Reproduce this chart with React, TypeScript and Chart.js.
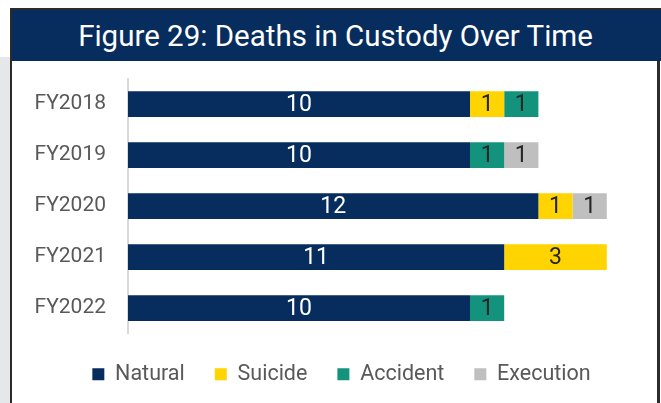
import React, { useEffect, useRef } from "react";
import { Chart, registerables } from "chart.js";

Chart.register(...registerables);

const categories = ["FY2018", "FY2019", "FY2020", "FY2021", "FY2022"];
const natural = [10, 10, 12, 11, 10];
const suicide = [1, 0, 1, 3, 0];
const accident = [1, 1, 0, 0, 1];
const execution = [0, 1, 1, 0, 0];
const seriesNames = ["Natural", "Suicide", "Accident", "Execution"];
const seriesColors = ["#062d5d", "#ffd400", "#14937c", "#bfbfbf"];
const labelColors = ["#ffffff", "#262626", "#262626", "#262626"];
const title = "Figure 29: Deaths in Custody Over Time";

const FONT = "Roboto, 'Liberation Sans', sans-serif";

const segmentLabels = {
  id: "segmentLabels",
  afterDatasetsDraw(chart: any) {
    const ctx = chart.ctx;
    ctx.save();
    ctx.font = `23px ${FONT}`;
    ctx.textAlign = "center";
    ctx.textBaseline = "middle";
    chart.data.datasets.forEach((ds: any, di: number) => {
      const meta = chart.getDatasetMeta(di);
      if (meta.hidden) return;
      meta.data.forEach((bar: any, i: number) => {
        const v = ds.data[i];
        if (!v) return;
        const p = bar.getProps(["x", "y", "base"], true);
        ctx.fillStyle = labelColors[di];
        ctx.fillText(String(v), (p.x + p.base) / 2, p.y + 1);
      });
    });
    ctx.restore();
  },
};

const legendShift = {
  id: "legendShift",
  afterLayout(chart: any) {
    const lg = chart.legend;
    if (lg) {
      lg.left += 9;
      lg.right += 9;
    }
  },
};

export default function App() {
  const ref = useRef<HTMLCanvasElement>(null);
  useEffect(() => {
    document.body.style.margin = "0";
    const values = [natural, suicide, accident, execution];
    const chart = new Chart(ref.current!, {
      type: "bar",
      data: {
        labels: categories,
        datasets: values.map((d, i) => ({
          label: seriesNames[i],
          data: d,
          backgroundColor: seriesColors[i],
          borderWidth: 0,
          barPercentage: 0.505,
          categoryPercentage: 1,
        })),
      },
      options: {
        indexAxis: "y",
        animation: false,
        responsive: false,
        maintainAspectRatio: false,
        layout: { padding: { top: 0, right: 16, left: 12, bottom: 8 } },
        scales: {
          x: { stacked: true, min: 0, max: 15, display: false },
          y: {
            stacked: true,
            afterFit: (s: any) => {
              s.width = 104;
            },
            grid: { display: false, drawTicks: false },
            border: { color: "#d9d9d9", width: 2 },
            ticks: { color: "#595959", font: { family: FONT, size: 21 }, padding: 22 },
          },
        },
        plugins: {
          legend: {
            position: "bottom",
            labels: {
              boxWidth: 12,
              boxHeight: 12,
              padding: 30,
              color: "#595959",
              font: { family: FONT, size: 21.5 },
            },
          },
          tooltip: { enabled: false },
        },
      },
      plugins: [segmentLabels, legendShift],
    });
    return () => chart.destroy();
  }, []);

  return (
    <div style={{ position: "relative", width: 661, height: 403, overflow: "hidden", background: "#fff", fontFamily: FONT }}>
      <div style={{ position: "absolute", left: 0, top: 57, width: 10, height: 346, background: "#e6e7e9" }} />
      <div style={{ position: "absolute", left: 10, top: 8, width: 651, height: 2, background: "#2b2b2b" }} />
      <div style={{ position: "absolute", left: 10, top: 8, width: 2, height: 395, background: "#2b2b2b" }} />
      <div style={{ position: "absolute", left: 657, top: 8, width: 3, height: 395, background: "#2b2b2b" }} />
      <div
        style={{
          position: "absolute",
          left: 12,
          top: 10,
          width: 649,
          height: 51,
          background: "#062d5d",
          color: "#fff",
          fontSize: 29.5,
          lineHeight: "52px",
          textAlign: "center",
          paddingRight: 2,
          boxSizing: "border-box",
        }}
      >
        {title}
      </div>
      <canvas ref={ref} width={645} height={359} style={{ position: "absolute", left: 12, top: 44, width: 645, height: 359 }} />
    </div>
  );
}
